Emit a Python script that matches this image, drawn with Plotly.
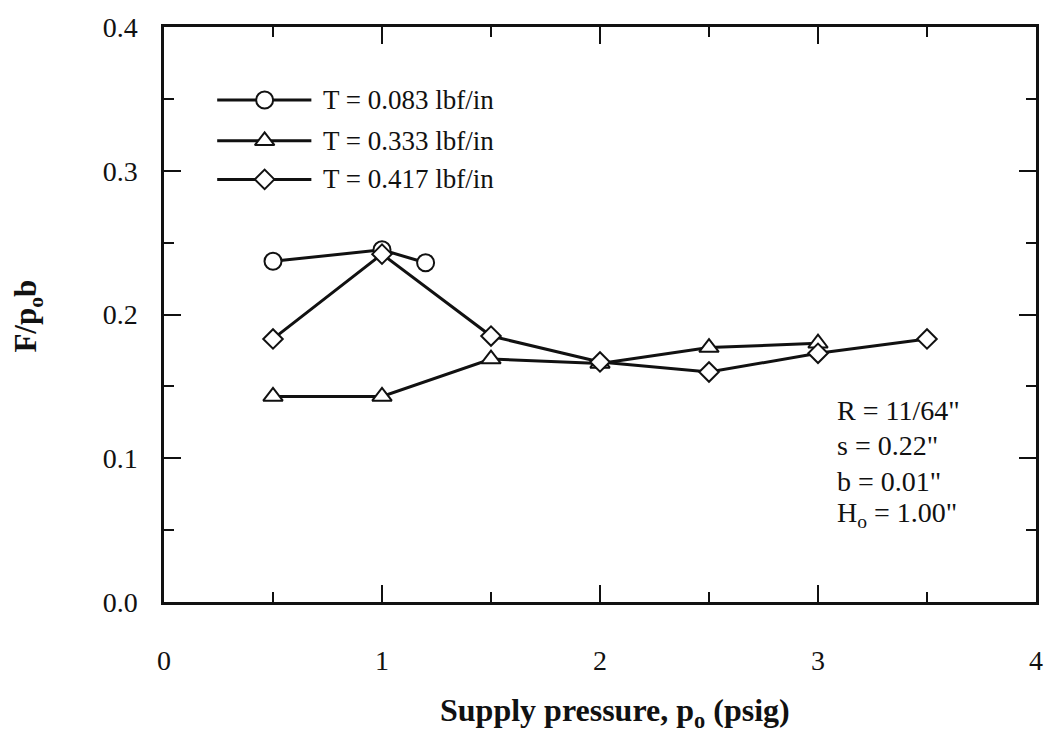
import plotly.graph_objects as go

# Measured force coefficient F/(p_o b) versus supply pressure for three tensions
pressure_t083 = [0.5, 1.0, 1.2]
force_t083 = [0.237, 0.245, 0.236]

pressure_t333 = [0.5, 1.0, 1.5, 2.0, 2.5, 3.0]
force_t333 = [0.143, 0.143, 0.169, 0.166, 0.177, 0.180]

pressure_t417 = [0.5, 1.0, 1.5, 2.0, 2.5, 3.0, 3.5]
force_t417 = [0.183, 0.242, 0.185, 0.167, 0.160, 0.173, 0.183]

series_labels = ["T = 0.083 lbf/in", "T = 0.333 lbf/in", "T = 0.417 lbf/in"]
series_symbols = ["circle", "triangle-up", "diamond"]
series_sizes = [17, 17, 15]

geometry_notes = ["R = 11/64\"", "s = 0.22\"", "b = 0.01\"", "H<sub>o</sub> = 1.00\""]

FONT = "Liberation Serif"
INK = "#111111"

fig = go.Figure()

series = [
    (pressure_t083, force_t083),
    (pressure_t333, force_t333),
    (pressure_t417, force_t417),
]
for (xs, ys), sym, sz, name in zip(series, series_symbols, series_sizes, series_labels):
    fig.add_trace(go.Scatter(
        x=xs, y=ys, mode="lines+markers", name=name, showlegend=False,
        line=dict(color=INK, width=3),
        marker=dict(symbol=sym, size=sz, color="white", line=dict(width=2, color=INK)),
    ))

# Legend glyphs drawn on an overlay axis spanning the plot area (0..1 each way)
legend_rows_y = [0.873, 0.802, 0.735]
line_x0, line_x1, mark_x, text_x = 0.061, 0.169, 0.1154, 0.180
for ry, sym, sz, name in zip(legend_rows_y, series_symbols, series_sizes, series_labels):
    fig.add_trace(go.Scatter(
        x=[line_x0, line_x1], y=[ry, ry], mode="lines", xaxis="x2", yaxis="y2",
        showlegend=False, hoverinfo="skip", line=dict(color=INK, width=3),
    ))
    fig.add_trace(go.Scatter(
        x=[mark_x], y=[ry], mode="markers", xaxis="x2", yaxis="y2",
        showlegend=False, hoverinfo="skip",
        marker=dict(symbol=sym, size=sz, color="white", line=dict(width=2, color=INK)),
    ))
    fig.add_annotation(
        x=text_x, y=ry, xref="x2", yref="y2", text=name, showarrow=False,
        xanchor="left", yanchor="middle", font=dict(family=FONT, size=27, color=INK),
    )

# Geometry parameters block
note_y = [0.333, 0.272, 0.209, 0.153]
for txt, ny in zip(geometry_notes, note_y):
    fig.add_annotation(
        x=0.770, y=ny, xref="paper", yref="paper", text=txt, showarrow=False,
        xanchor="left", yanchor="middle", font=dict(family=FONT, size=28, color=INK),
    )

# Axis titles
fig.add_annotation(
    x=0.517, y=-0.192, xref="paper", yref="paper",
    text="<b>Supply pressure, p<sub>o</sub> (psig)</b>", showarrow=False,
    xanchor="center", yanchor="middle", font=dict(family=FONT, size=32, color=INK),
)
fig.add_annotation(
    x=-0.156, y=0.498, xref="paper", yref="paper",
    text="<b>F/p<sub>o</sub>b</b>", textangle=-90, showarrow=False,
    xanchor="center", yanchor="middle", font=dict(family=FONT, size=31, color=INK),
)

axis_common = dict(
    showline=True, linecolor=INK, linewidth=2.5, mirror="allticks",
    ticks="inside", ticklen=17, tickwidth=2, tickcolor=INK,
    showgrid=False, zeroline=False,
    tickfont=dict(family=FONT, size=28, color=INK),
)

fig.update_layout(
    width=1055, height=735,
    margin=dict(l=164, r=16, t=20, b=133),
    paper_bgcolor="white", plot_bgcolor="white",
    xaxis=dict(
        range=[0, 4], dtick=1, tick0=0, ticklabelstandoff=32,
        minor=dict(dtick=0.5, ticks="inside", ticklen=10, tickwidth=2, tickcolor=INK),
        **axis_common,
    ),
    yaxis=dict(
        range=[0, 0.4], dtick=0.1, tick0=0, tickformat=".1f", ticklabelstandoff=18,
        minor=dict(dtick=0.05, ticks="inside", ticklen=10, tickwidth=2, tickcolor=INK),
        **axis_common,
    ),
    xaxis2=dict(range=[0, 1], overlaying="x", anchor="y2", visible=False),
    yaxis2=dict(range=[0, 1], overlaying="y", anchor="x2", visible=False),
    showlegend=False,
)

fig.write_html("out.html")
